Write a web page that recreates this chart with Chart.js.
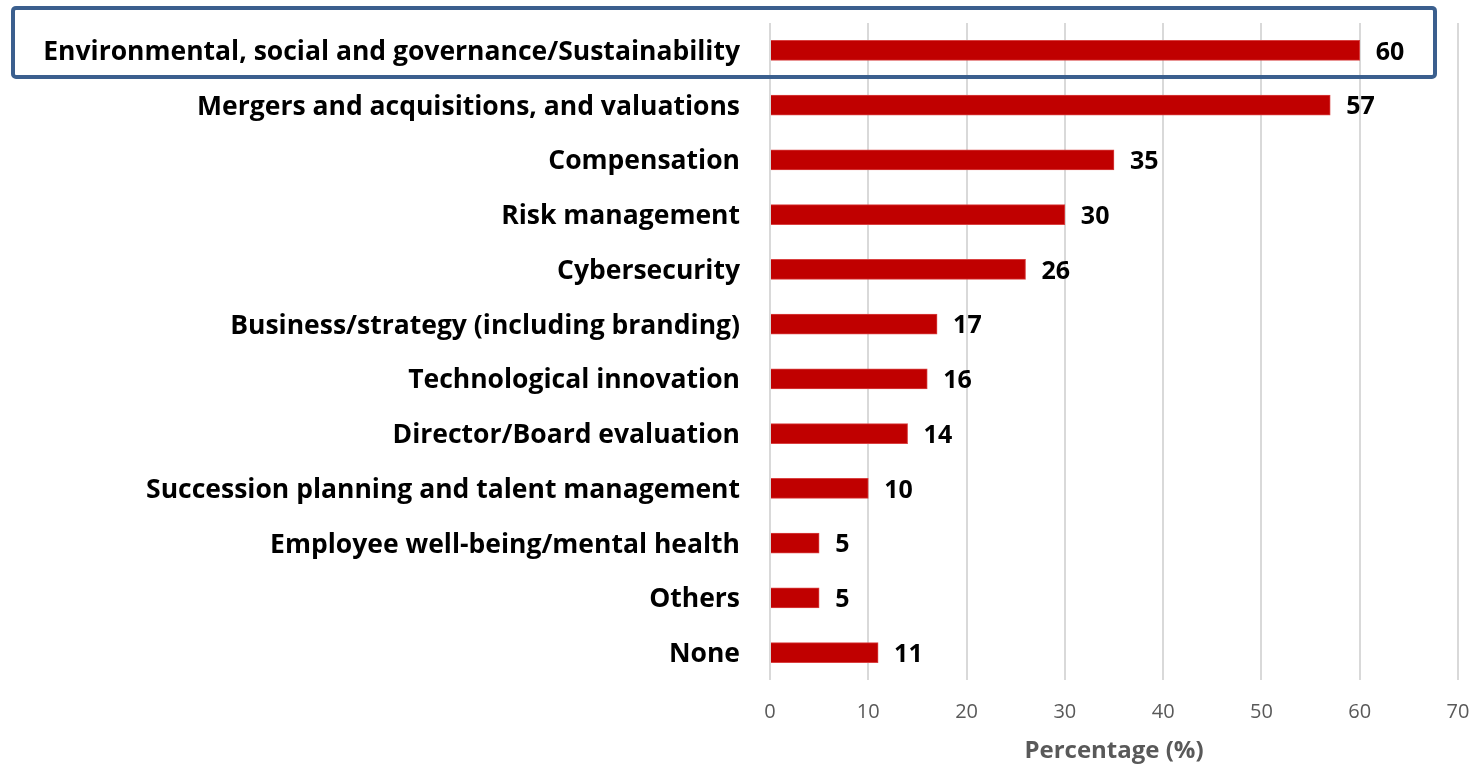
<!DOCTYPE html>
<html>
<head>
<meta charset="utf-8">
<script src="https://cdn.jsdelivr.net/npm/chart.js@4"></script>
<style>
  html, body { margin: 0; padding: 0; background: #fff; }
  #wrap { width: 1470px; height: 766px; }
</style>
</head>
<body>
<div id="wrap"><canvas id="chart" width="1470" height="766"></canvas></div>
<script>
// Données
const categories = [
    'Environmental, social and governance/Sustainability',
    'Mergers and acquisitions, and valuations',
    'Compensation',
    'Risk management',
    'Cybersecurity',
    'Business/strategy (including branding)',
    'Technological innovation',
    'Director/Board evaluation',
    'Succession planning and talent management',
    'Employee well-being/mental health',
    'Others',
    'None'
];
const valeurs = [60, 57, 35, 30, 26, 17, 16, 14, 10, 5, 5, 11];
const ticksX = [0, 10, 20, 30, 40, 50, 60, 70];
const titreX = 'Percentage (%)';

const police = 'Open Sans';

// Etiquettes de valeur à droite des barres
const etiquettesPlugin = {
    id: 'etiquettes',
    afterDatasetsDraw(chart) {
        const ctx = chart.ctx;
        const meta = chart.getDatasetMeta(0);
        ctx.save();
        ctx.font = 'bold 25px "' + police + '"';
        ctx.fillStyle = '#000';
        ctx.textAlign = 'left';
        ctx.textBaseline = 'middle';
        meta.data.forEach((bar, i) => {
            ctx.fillText(String(valeurs[i]), bar.x + 16, bar.y + 2);
        });
        ctx.restore();
    }
};

// Cadre bleu autour de la première catégorie
const cadrePlugin = {
    id: 'cadre',
    afterDraw(chart) {
        const ctx = chart.ctx;
        const y = chart.scales.y.getPixelForValue(0);
        ctx.save();
        ctx.strokeStyle = '#3B5F8E';
        ctx.lineWidth = 4;
        ctx.lineJoin = 'round';
        ctx.beginPath();
        ctx.roundRect(13, y - 42.5, 1422, 69, 3);
        ctx.stroke();
        ctx.restore();
    }
};

const ctx = document.getElementById('chart');
new Chart(ctx.getContext('2d'), {
    type: 'bar',
    data: {
        labels: categories,
        datasets: [{
            data: valeurs,
            backgroundColor: '#C00000',
            borderColor: '#D94040',
            borderWidth: 1,
            barThickness: 20
        }]
    },
    options: {
        indexAxis: 'y',
        responsive: false,
        animation: false,
        layout: {
            padding: { top: 23, right: 12, bottom: 0, left: 0 }
        },
        plugins: {
            legend: { display: false },
            tooltip: { enabled: false }
        },
        scales: {
            x: {
                min: 0,
                max: 70,
                afterBuildTicks(scale) {
                    scale.ticks = ticksX.map(v => ({ value: v }));
                },
                afterFit(scale) {
                    scale.height = 86;
                    scale.paddingLeft = 0;
                    scale.paddingRight = 0;
                },
                grid: {
                    color: '#D9D9D9',
                    lineWidth: 2,
                    drawTicks: false
                },
                border: { display: false },
                ticks: {
                    color: '#595959',
                    font: { family: police, size: 20 },
                    padding: 20
                },
                title: {
                    display: true,
                    text: titreX,
                    color: '#595959',
                    font: { family: police, size: 24, weight: 'bold' },
                    padding: { top: 0, bottom: 0 }
                }
            },
            y: {
                afterFit(scale) {
                    scale.width = 770;
                    scale.paddingTop = 0;
                    scale.paddingBottom = 0;
                },
                grid: { display: false, drawTicks: false },
                border: { display: false },
                ticks: {
                    color: '#000',
                    font: { family: police, size: 26.5, weight: 'bold' },
                    padding: 30,
                    labelOffset: 2,
                    autoSkip: false
                }
            }
        }
    },
    plugins: [etiquettesPlugin, cadrePlugin]
});
</script>
</body>
</html>
